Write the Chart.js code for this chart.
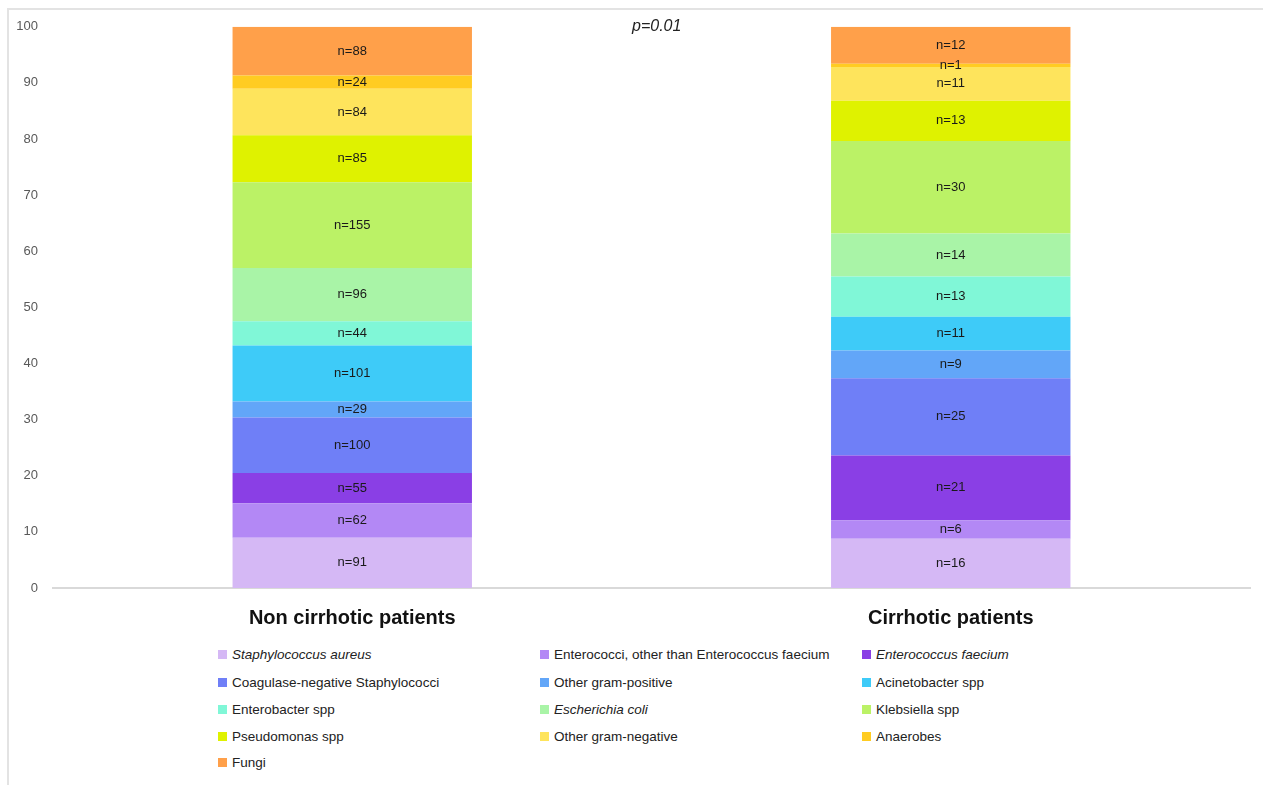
<!DOCTYPE html>
<html>
<head>
<meta charset="utf-8">
<script src="https://cdn.jsdelivr.net/npm/chart.js@4"></script>
<style>
  html, body { margin: 0; padding: 0; background: #fff; }
  body { width: 1263px; height: 785px; position: relative; overflow: hidden; font-family: 'Liberation Sans', Arial, sans-serif; }
  #frame { position: absolute; left: 7px; top: 8px; width: 1260px; height: 790px; border-left: 2px solid #e3e3e3; border-top: 2px solid #e3e3e3; }
  #wrap { position: absolute; left: 8px; top: 4px; width: 1255px; height: 636px; }
  #pval { position: absolute; left: 632px; top: 17px; font-style: italic; font-size: 16px; color: #222; }
  .lg { position: absolute; font-size: 13.5px; color: #222; white-space: nowrap; line-height: 16px; }
  .lg span.sq { display: inline-block; width: 9px; height: 9px; margin-right: 5px; }
  .lg i { font-style: italic; }
</style>
</head>
<body>
<div id="frame"></div>
<div id="wrap"><canvas id="c"></canvas></div>
<div id="pval">p=0.01</div>
<div id="legend"></div>
<script>
const groups = ['Non cirrhotic patients', 'Cirrhotic patients'];
const organisms = [
  'Staphylococcus aureus', 'Enterococci, other than Enterococcus faecium', 'Enterococcus faecium',
  'Coagulase-negative Staphylococci', 'Other gram-positive', 'Acinetobacter spp',
  'Enterobacter spp', 'Escherichia coli', 'Klebsiella spp',
  'Pseudomonas spp', 'Other gram-negative', 'Anaerobes',
  'Fungi'
];
const italicNames = ['Staphylococcus aureus', 'Enterococcus faecium', 'Escherichia coli'];
const nonCirrhoticN = [91, 62, 55, 100, 29, 101, 44, 96, 155, 85, 84, 24, 88];
const cirrhoticN = [16, 6, 21, 25, 9, 11, 13, 14, 30, 13, 11, 1, 12];
const colors = ['#d5b8f5', '#b388f5', '#8a3fe5', '#6f7ff7', '#62a6f8', '#3ecbf8', '#80f7d7', '#a9f4a7', '#bbf266', '#dff200', '#fee45c', '#ffcc22', '#ffa04a'];

const totNon = nonCirrhoticN.reduce((a, b) => a + b, 0);
const totCir = cirrhoticN.reduce((a, b) => a + b, 0);

const datasets = organisms.map((name, i) => ({
  label: name,
  data: [nonCirrhoticN[i] / totNon * 100, cirrhoticN[i] / totCir * 100],
  counts: [nonCirrhoticN[i], cirrhoticN[i]],
  backgroundColor: colors[i],
  borderWidth: 0,
  barPercentage: 0.4,
  categoryPercentage: 1
}));

// n= labels in the middle of each segment
const segLabels = {
  id: 'segLabels',
  afterDatasetsDraw(chart) {
    const ctx = chart.ctx;
    ctx.save();
    ctx.font = '13px "Liberation Sans", Arial, sans-serif';
    ctx.fillStyle = '#1a1a1a';
    ctx.textAlign = 'center';
    ctx.textBaseline = 'middle';
    chart.data.datasets.forEach((ds, di) => {
      chart.getDatasetMeta(di).data.forEach((el, j) => {
        ctx.fillText('n=' + ds.counts[j], el.x, (el.y + el.base) / 2);
      });
    });
    ctx.restore();
  }
};

new Chart(document.getElementById('c'), {
  type: 'bar',
  data: { labels: groups, datasets },
  plugins: [segLabels],
  options: {
    responsive: true,
    maintainAspectRatio: false,
    animation: false,
    layout: { padding: { top: 13, right: 13, bottom: 0, left: 0 } },
    plugins: { legend: { display: false }, tooltip: { enabled: false } },
    scales: {
      x: {
        stacked: true,
        grid: { display: false, drawTicks: false },
        border: { display: true, color: '#d9d9d9', width: 2 },
        ticks: { padding: 18, color: '#111', font: { family: '"Liberation Sans", Arial, sans-serif', size: 20, weight: 'bold' } },
        afterFit(scale) { scale.height = 52; }
      },
      y: {
        stacked: true,
        min: 0,
        max: 100,
        grid: { display: false, drawTicks: false },
        border: { display: false },
        ticks: { stepSize: 10, padding: 15, color: '#595959', font: { family: '"Liberation Sans", Arial, sans-serif', size: 13 } },
        afterFit(scale) { scale.width = 45; }
      }
    }
  }
});

// legend, three columns
const legend = document.getElementById('legend');
const colX = [218, 540, 862];
const rowY = [647, 675, 702, 729, 755];
organisms.forEach((name, i) => {
  const d = document.createElement('div');
  d.className = 'lg';
  d.style.left = colX[i % 3] + 'px';
  d.style.top = rowY[Math.floor(i / 3)] + 'px';
  const label = italicNames.includes(name) ? '<i>' + name + '</i>' : name;
  d.innerHTML = '<span class="sq" style="background:' + colors[i] + '"></span>' + label;
  legend.appendChild(d);
});
</script>
</body>
</html>
